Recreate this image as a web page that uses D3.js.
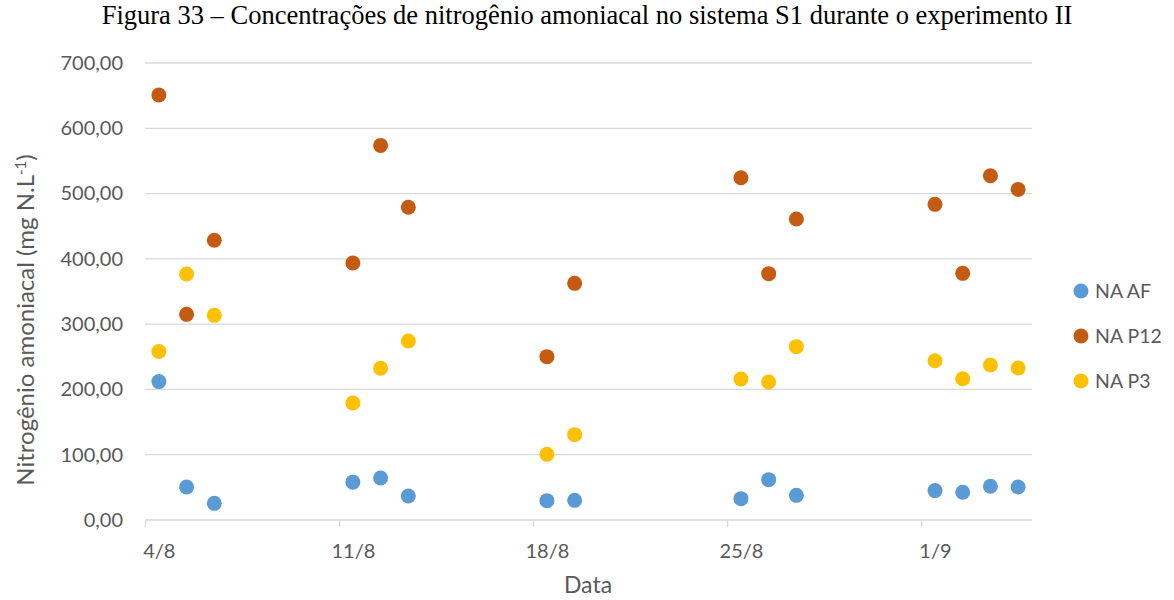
<!DOCTYPE html>
<html>
<head>
<meta charset="utf-8">
<script src="https://cdn.jsdelivr.net/npm/d3@7"></script>
<style>
  body { margin: 0; background: #fff; }
  svg { display: block; }
</style>
</head>
<body>
<div id="chart"></div>
<script>
// sampling days
const dates = ["2021-08-04", "2021-08-05", "2021-08-06", "2021-08-11", "2021-08-12", "2021-08-13",
  "2021-08-18", "2021-08-19", "2021-08-25", "2021-08-26", "2021-08-27",
  "2021-09-01", "2021-09-02", "2021-09-03", "2021-09-04"];

const naAF  = [212, 50.5, 25.5, 58, 64.3, 36.8, 29.6, 30.1, 32.7, 61.8, 37.8, 45, 42.4, 51.6, 50.5];
const naP12 = [651, 315, 428.4, 393.6, 573.8, 479, 250.2, 362.5, 524.3, 377.3, 461, 483.5, 377.8, 527.4, 506.4];
const naP3  = [258.2, 376.8, 313.5, 179.2, 232.5, 274.2, 100.6, 130.7, 216, 211.4, 265.5, 244, 216.4, 237.4, 232.8];

const seriesNames = ["NA AF", "NA P12", "NA P3"];
const seriesColors = ["#5b9bd5", "#c55a11", "#ffc000"];
const yTicks = [0, 100, 200, 300, 400, 500, 600, 700];
const xTicks = ["2021-08-04", "2021-08-11", "2021-08-18", "2021-08-25", "2021-09-01"];

const W = 1174, H = 600;
const margin = { top: 63, left: 145, right: 1174 - 1032, bottom: 600 - 520 };
const width = W - margin.left - margin.right;
const height = H - margin.top - margin.bottom;

const font = "Lato, 'Open Sans', sans-serif";
const grey = "#595959";

const parse = d3.utcParse("%Y-%m-%d");

const svg = d3.select("#chart").append("svg")
  .attr("width", W)
  .attr("height", H);

svg.append("text")
  .attr("x", 587)
  .attr("y", 24)
  .attr("text-anchor", "middle")
  .style("font-family", "'Liberation Serif', 'Times New Roman', serif")
  .style("font-size", "26.5px")
  .style("fill", "#000")
  .text("Figura 33 – Concentrações de nitrogênio amoniacal no sistema S1 durante o experimento II");

const g = svg.append("g")
  .attr("transform", `translate(${margin.left},${margin.top})`);

// date axis with one slot per day (4/8 up to 5/9); points sit mid-day
const x = d3.scaleUtc()
  .domain([parse("2021-08-04"), parse("2021-09-05")])
  .range([0, width]);

const y = d3.scaleLinear()
  .domain([0, 700])
  .range([height, 0]);

const fmt = v => d3.format(".2f")(v).replace(".", ",");
const mid = d => d3.utcHour.offset(d, 12);

// gridlines
g.append("g")
  .selectAll("line")
  .data(yTicks.filter(d => d > 0))
  .enter()
  .append("line")
  .attr("x1", 0)
  .attr("x2", width)
  .attr("y1", d => y(d))
  .attr("y2", d => y(d))
  .attr("stroke", "#d9d9d9")
  .attr("stroke-width", 1.3);

// y axis labels
const yAxis = g.append("g")
  .call(d3.axisLeft(y).tickValues(yTicks).tickFormat(fmt).tickSize(0).tickPadding(22));
yAxis.select(".domain").remove();
yAxis.selectAll("text")
  .style("font-family", font)
  .style("font-size", "20px")
  .style("fill", grey);

// x axis: tick marks at day starts, labels centred in the day slot
const xAxis = g.append("g")
  .attr("transform", `translate(0,${height})`)
  .call(d3.axisBottom(x).tickValues(xTicks.map(parse)).tickFormat(d3.utcFormat("%-d/%-m")).tickSize(7).tickPadding(17));
xAxis.select(".domain")
  .attr("stroke", "#d9d9d9")
  .attr("stroke-width", 1.3)
  .attr("d", `M0,0H${width}`);
xAxis.selectAll(".tick line")
  .attr("stroke", "#d9d9d9")
  .attr("stroke-width", 1.3);
xAxis.selectAll("text")
  .attr("x", d => x(mid(d)) - x(d))
  .style("font-family", font)
  .style("font-size", "20px")
  .style("fill", grey);

// axis titles
svg.append("text")
  .attr("x", 588)
  .attr("y", 593)
  .attr("text-anchor", "middle")
  .style("font-family", font)
  .style("font-size", "23px")
  .style("fill", grey)
  .text("Data");

const yTitle = svg.append("text")
  .attr("transform", "translate(34,320) rotate(-90)")
  .attr("text-anchor", "middle")
  .style("font-family", font)
  .style("font-size", "24px")
  .style("fill", grey);
yTitle.append("tspan").text("Nitrogênio amoniacal (mg N.L");
yTitle.append("tspan").attr("dy", -8).style("font-size", "15px").text("-1");
yTitle.append("tspan").attr("dy", 8).text(")");

// points
const series = [naAF, naP12, naP3];

series.forEach((vals, s) => {
  g.append("g")
    .selectAll("circle")
    .data(vals)
    .enter()
    .append("circle")
    .attr("cx", (d, i) => x(mid(parse(dates[i]))))
    .attr("cy", d => y(d))
    .attr("r", 7.5)
    .attr("fill", seriesColors[s]);
});

// legend
const legend = svg.append("g")
  .attr("transform", "translate(1081,291)");

seriesNames.forEach((name, i) => {
  legend.append("circle")
    .attr("cx", 0)
    .attr("cy", i * 45)
    .attr("r", 7.5)
    .attr("fill", seriesColors[i]);
  legend.append("text")
    .attr("x", 14)
    .attr("y", i * 45)
    .attr("dy", "0.36em")
    .style("font-family", font)
    .style("font-size", "19.5px")
    .style("fill", grey)
    .text(name);
});
</script>
</body>
</html>
